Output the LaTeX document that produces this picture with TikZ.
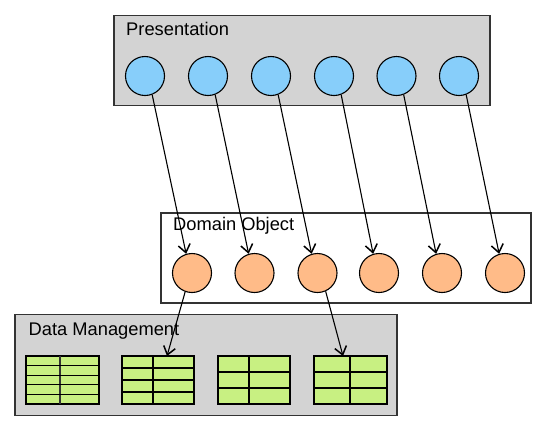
\documentclass[tikz,border=0pt]{standalone}
\usepackage{fontspec}
\setmainfont{Liberation Sans}
\usetikzlibrary{arrows.meta,calc}
\definecolor{boxgray}{RGB}{211,211,211}
\definecolor{pblue}{RGB}{135,206,250}
\definecolor{dorange}{RGB}{255,187,136}
\definecolor{tgreen}{RGB}{200,240,130}
\tikzset{
  layer/.style={draw=black!80, line width=1.4pt, inner sep=0pt, outer sep=0pt},
  pcirc/.style={circle, draw=black, line width=1.1pt, fill=pblue, minimum size=39pt, inner sep=0pt},
  dcirc/.style={circle, draw=black, line width=1.1pt, fill=dorange, minimum size=39pt, inner sep=0pt},
  tbl/.style={draw=black, line width=1.1pt, fill=tgreen, inner sep=0pt, outer sep=0pt, minimum height=48pt},
  lbl/.style={anchor=base west, inner sep=0pt, font=\fontsize{18.3}{21}\selectfont},
  conn/.style={line width=1.1pt, -{Straight Barb[length=8pt,width=12pt,line width=1.5pt]}},
}
\begin{document}
\begin{tikzpicture}[x=1pt,y=-1pt]
\useasboundingbox (0,0) rectangle (552,432);
% layers
\node[layer, fill=boxgray, minimum width=376pt, minimum height=90pt] (pres) at (302,60.5) {};
\node[layer, fill=white, minimum width=370pt, minimum height=90pt] (dom) at (346,258) {};
\node[layer, fill=boxgray, minimum width=382pt, minimum height=101pt] (data) at (206,365) {};
\node[lbl] (presl) at (126,35.5) {Presentation};
\node[lbl] (doml) at (173,230.5) {Domain Object};
\node[lbl] (datal) at (28.5,335) {Data Management};
% presentation circles
\foreach \i/\x in {1/145,2/208,3/271,4/334,5/396.5,6/459}
  \node[pcirc] (p\i) at (\x,76) {};
% domain circles
\foreach \i/\x in {1/192,2/254.5,3/317.5,4/379,5/442,6/505}
  \node[dcirc] (d\i) at (\x,273) {};
% tables
\node[tbl, minimum width=73pt] (t1) at (62.5,380) {};
\node[tbl, minimum width=72pt] (t2) at (158,380) {};
\node[tbl, minimum width=72pt] (t3) at (254,380) {};
\node[tbl, minimum width=73pt] (t4) at (350.5,380) {};
\draw[line width=1.4pt, black!80] (60,356) -- (60,404);
\foreach \k in {1,...,4} \draw[line width=1.1pt] (26,356+\k*9.6) -- (99,356+\k*9.6);
\draw[line width=1.1pt] (153,356) -- (153,404);
\foreach \k in {1,...,3} \draw[line width=1.1pt] (122,356+\k*12) -- (194,356+\k*12);
\draw[line width=1.1pt] (249,356) -- (249,404);
\foreach \k in {1,2} \draw[line width=1.1pt] (218,356+\k*16) -- (290,356+\k*16);
\draw[line width=1.1pt] (350,356) -- (350,404);
\foreach \k in {1,2} \draw[line width=1.1pt] (314,356+\k*16) -- (387,356+\k*16);
% connectors
\foreach \i in {1,...,6}
  \draw[conn] (p\i.-69) -- (d\i.107);
\draw[conn] (d1.-110) -- ([xshift=9pt]t2.north);
\draw[conn] (d3.-66) -- ([xshift=-7.5pt]t4.north);
\end{tikzpicture}
\end{document}
